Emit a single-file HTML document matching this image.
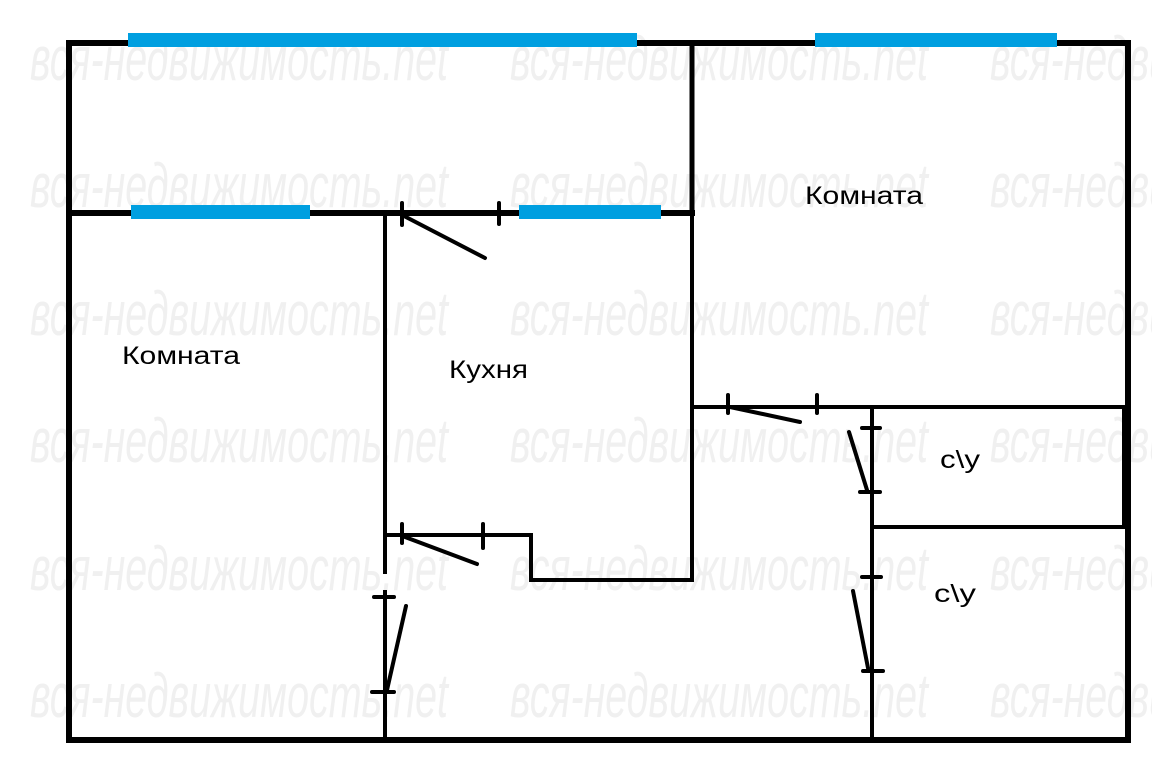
<!DOCTYPE html>
<html><head><meta charset="utf-8"><style>
html,body{margin:0;padding:0;background:#fff;width:1152px;height:760px;overflow:hidden}
svg{display:block}
.wm{font-family:"Liberation Sans",sans-serif;font-style:italic;font-size:62px;fill:#f0f0f0}
.lb{font-family:"Liberation Sans","DejaVu Sans",sans-serif;font-size:25px;fill:#000}
</style></head><body>
<svg width="1152" height="760" xmlns="http://www.w3.org/2000/svg">
<g class="wm">
<text x="30" y="80" textLength="418" lengthAdjust="spacingAndGlyphs">вся-недвижимость.net</text>
<text x="510" y="80" textLength="418" lengthAdjust="spacingAndGlyphs">вся-недвижимость.net</text>
<text x="990" y="80" textLength="418" lengthAdjust="spacingAndGlyphs">вся-недвижимость.net</text>
<text x="30" y="207" textLength="418" lengthAdjust="spacingAndGlyphs">вся-недвижимость.net</text>
<text x="510" y="207" textLength="418" lengthAdjust="spacingAndGlyphs">вся-недвижимость.net</text>
<text x="990" y="207" textLength="418" lengthAdjust="spacingAndGlyphs">вся-недвижимость.net</text>
<text x="30" y="335" textLength="418" lengthAdjust="spacingAndGlyphs">вся-недвижимость.net</text>
<text x="510" y="335" textLength="418" lengthAdjust="spacingAndGlyphs">вся-недвижимость.net</text>
<text x="990" y="335" textLength="418" lengthAdjust="spacingAndGlyphs">вся-недвижимость.net</text>
<text x="30" y="462" textLength="418" lengthAdjust="spacingAndGlyphs">вся-недвижимость.net</text>
<text x="510" y="462" textLength="418" lengthAdjust="spacingAndGlyphs">вся-недвижимость.net</text>
<text x="990" y="462" textLength="418" lengthAdjust="spacingAndGlyphs">вся-недвижимость.net</text>
<text x="30" y="590" textLength="418" lengthAdjust="spacingAndGlyphs">вся-недвижимость.net</text>
<text x="510" y="590" textLength="418" lengthAdjust="spacingAndGlyphs">вся-недвижимость.net</text>
<text x="990" y="590" textLength="418" lengthAdjust="spacingAndGlyphs">вся-недвижимость.net</text>
<text x="30" y="717" textLength="418" lengthAdjust="spacingAndGlyphs">вся-недвижимость.net</text>
<text x="510" y="717" textLength="418" lengthAdjust="spacingAndGlyphs">вся-недвижимость.net</text>
<text x="990" y="717" textLength="418" lengthAdjust="spacingAndGlyphs">вся-недвижимость.net</text>
</g>
<g stroke="#000" fill="none" stroke-linecap="square">
<path d="M69 43 H1128 V740 H69 Z" stroke-width="6"/>
<line x1="69" y1="213" x2="692" y2="213" stroke-width="6"/>
<line x1="692" y1="43" x2="692" y2="213" stroke-width="5"/>
<line x1="385" y1="216" x2="385" y2="572" stroke-width="4"/>
<line x1="385" y1="592" x2="385" y2="740" stroke-width="4"/>
<path d="M385 535 H531 V580 H692 V213" stroke-width="4"/>
<line x1="692" y1="407" x2="1128" y2="407" stroke-width="4"/>
<line x1="872" y1="409" x2="872" y2="740" stroke-width="4"/>
<line x1="872" y1="527" x2="1125" y2="527" stroke-width="4"/>
<line x1="1124" y1="407" x2="1124" y2="527" stroke-width="4"/>
</g>
<g stroke="#009fe0" stroke-width="14">
<line x1="128" y1="40" x2="637" y2="40"/>
<line x1="815" y1="40" x2="1057" y2="40"/>
<line x1="131" y1="212" x2="310" y2="212"/>
<line x1="519" y1="212" x2="661" y2="212"/>
</g>
<g stroke="#000" stroke-width="4" stroke-linecap="round">
<line x1="402" y1="203" x2="402" y2="225"/><line x1="499" y1="203" x2="499" y2="224"/>
<line x1="404" y1="216" x2="485" y2="258"/>
<line x1="728" y1="395" x2="728" y2="413"/><line x1="817" y1="395" x2="817" y2="413"/>
<line x1="730" y1="407" x2="800" y2="422"/>
<line x1="862" y1="428" x2="880" y2="428"/><line x1="860" y1="492" x2="880" y2="492"/>
<line x1="849" y1="432" x2="867" y2="490"/>
<line x1="862" y1="577" x2="881" y2="577"/><line x1="863" y1="671" x2="883" y2="671"/>
<line x1="853" y1="591" x2="868" y2="668"/>
<line x1="402" y1="524" x2="402" y2="543"/><line x1="483" y1="524" x2="483" y2="548"/>
<line x1="405" y1="537" x2="477" y2="564"/>
<line x1="374" y1="597" x2="394" y2="597"/><line x1="372" y1="692" x2="394" y2="692"/>
<line x1="406" y1="606" x2="387" y2="690"/>
</g>
<text class="lb" x="122" y="364" textLength="118" lengthAdjust="spacingAndGlyphs">Комната</text>
<text class="lb" x="449" y="378" textLength="79" lengthAdjust="spacingAndGlyphs">Кухня</text>
<text class="lb" x="805" y="204" textLength="118" lengthAdjust="spacingAndGlyphs">Комната</text>
<text class="lb" x="940" y="468" textLength="40" lengthAdjust="spacingAndGlyphs">c\y</text>
<text class="lb" x="934" y="602" textLength="42" lengthAdjust="spacingAndGlyphs">c\y</text>
</svg>
</body></html>
